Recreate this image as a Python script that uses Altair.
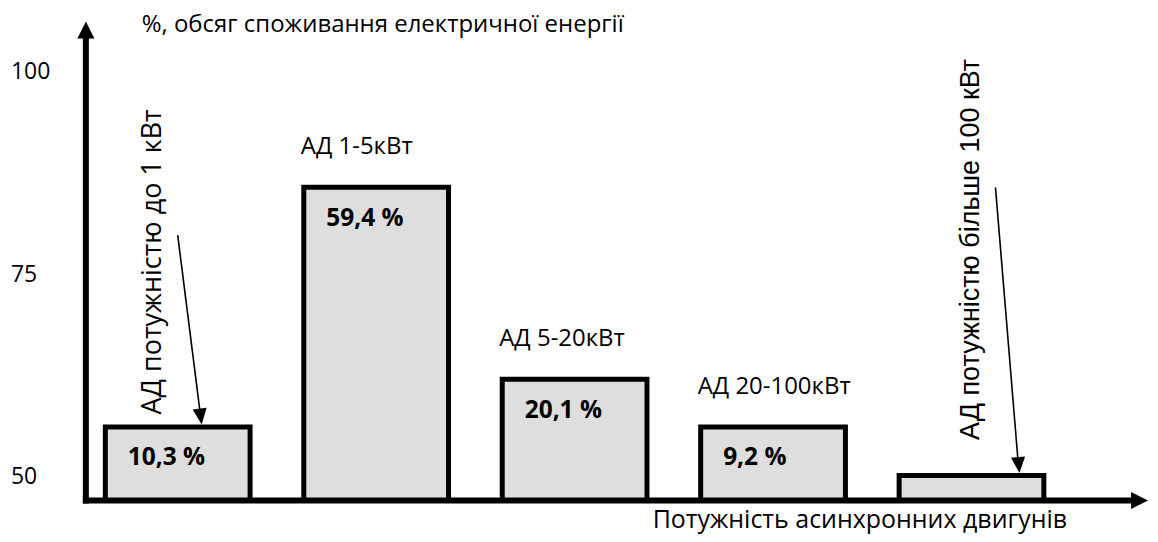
import altair as alt
import pandas as pd

# ---- data ----
categories = ["до 1 кВт", "1-5 кВт", "5-20 кВт", "20-100 кВт", "більше 100 кВт"]
bar_heights = [56.2, 85.8, 62.1, 56.2, 50.2]          # on the 50..100 axis (schematic heights)
share_labels = ["10,3 %", "59,4 %", "20,1 %", "9,2 %", ""]
group_labels = ["", "АД 1-5кВт", "АД 5-20кВт", "АД 20-100кВт", ""]
y_ticks = [50, 75, 100]
y_domain = [47.1, 107.4]
y_title = "%, обсяг споживання електричної енергії"
x_title = "Потужність асинхронних двигунів"
callout_texts = ["АД потужністю до 1 кВт", "АД потужністю більше 100 кВт"]
callout_bars = ["до 1 кВт", "більше 100 кВт"]
callout_arrow_from = [79.9, 85.8]

df = pd.DataFrame({
    "cat": categories,
    "h": bar_heights,
    "share": share_labels,
    "group": group_labels,
    "base": [y_domain[0]] * len(categories),
})
ticks_df = pd.DataFrame({"tick": y_ticks, "label": [str(t) for t in y_ticks]})

W, H = 1064, 489
FONT = "Open Sans"

xs = alt.Scale(domain=categories, paddingInner=0.2706, paddingOuter=0.3114, align=0.1575)
ys = alt.Scale(domain=y_domain, nice=False, zero=False)

X = alt.X("cat:N", scale=xs, axis=None, sort=categories)
Y = lambda f: alt.Y(f, scale=ys, axis=None)

base = alt.Chart(df)

bars = base.mark_bar(fill="#dedede", stroke="black", strokeWidth=5).encode(
    x=X, y=Y("h:Q"), y2="base:Q",
)

shares = base.transform_filter(alt.datum.share != "").mark_text(
    align="left", baseline="middle", dx=-50, dy=31.5,
    font=FONT, fontSize=24.5, fontWeight="bold", color="black",
).encode(x=X, y=Y("h:Q"), text="share:N")

groups = base.transform_filter(alt.datum.group != "").mark_text(
    align="left", baseline="middle", dx=-75.5, dy=-40,
    font=FONT, fontSize=24, color="black",
).encode(x=X, y=Y("h:Q"), text="group:N")

ylabels = alt.Chart(ticks_df).mark_text(
    align="left", baseline="middle", font=FONT, fontSize=23, color="black",
).encode(x=alt.value(-75), y=Y("tick:Q"), text="label:N")

layers = [bars, shares, groups, ylabels]

# callouts: rotated text + arrow to the bar
callout_style = [
    dict(font=FONT, size=27, dx=12.5, dy=-25, x0=0, x1=24, ang=352.8),
    dict(font="Liberation Sans", size=27, dx=35.5, dy=0, x0=24, x1=48, ang=355.2),
]
for txt, cat, yfrom, st in zip(callout_texts, callout_bars, callout_arrow_from, callout_style):
    cdf = pd.DataFrame({"cat": [cat], "h": [bar_heights[categories.index(cat)]],
                        "from": [yfrom], "txt": [txt]})
    cb = alt.Chart(cdf)
    layers.append(cb.mark_text(
        angle=270, align="left", baseline="middle", dx=st["dx"], dy=st["dy"],
        font=st["font"], fontSize=st["size"], color="black",
    ).encode(x=X, y=Y("h:Q"), text="txt:N"))
    layers.append(cb.mark_rule(
        color="black", strokeWidth=1.6, xOffset=st["x0"], x2Offset=st["x1"] - 1, y2Offset=-10,
    ).encode(x=X, x2="cat:N", y=Y("from:Q"), y2="h:Q"))
    layers.append(cb.mark_point(
        shape="M0,0L-0.44,-1L0.44,-1Z", size=1024, filled=True, color="black",
        opacity=1, strokeWidth=0, xOffset=st["x1"], yOffset=-2.5, angle=st["ang"],
    ).encode(x=X, y=Y("h:Q")))

one = alt.Chart(pd.DataFrame({"k": [0]}))

# axis lines with arrowheads
layers.append(one.mark_rule(color="black", strokeWidth=6).encode(
    x=alt.value(0), y=alt.value(22), y2=alt.value(492)))
layers.append(one.mark_rule(color="black", strokeWidth=6).encode(
    x=alt.value(-3), x2=alt.value(1052), y=alt.value(489)))
layers.append(one.mark_point(shape="M0,0L-0.5,1L0.5,1Z", size=1156, filled=True,
                             color="black", opacity=1, strokeWidth=0).encode(
    x=alt.value(0), y=alt.value(9)))
layers.append(one.mark_point(shape="M0,0L-1,-0.5L-1,0.5Z", size=1156, filled=True,
                             color="black", opacity=1, strokeWidth=0).encode(
    x=alt.value(1064), y=alt.value(489)))

# axis titles
layers.append(one.mark_text(align="left", baseline="middle", font=FONT, fontSize=24,
                            color="black").encode(
    x=alt.value(56), y=alt.value(13), text=alt.value(y_title)))
layers.append(one.mark_text(align="right", baseline="middle", font=FONT, fontSize=25,
                            color="black").encode(
    x=alt.value(983), y=alt.value(508), text=alt.value(x_title)))

chart = alt.layer(*layers).properties(
    width=W, height=H,
    padding={"left": 78, "top": 4, "right": 2, "bottom": 33},
    autosize=alt.AutoSizeParams(type="none"),
    background="white",
).configure_view(stroke=None)

chart.save("out.html", embed_options={"renderer": "svg", "actions": False})
